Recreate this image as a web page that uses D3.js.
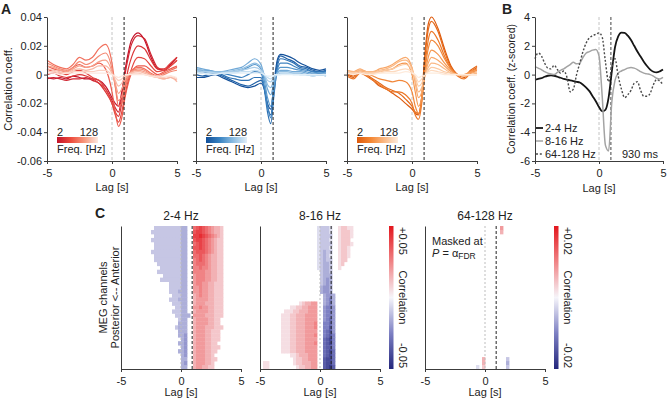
<!DOCTYPE html>
<html>
<head>
<meta charset="utf-8">
<script src="https://cdn.jsdelivr.net/npm/d3@7/dist/d3.min.js"></script>
<style>
  body { margin: 0; background: #fff; }
  svg text { font-family: "Liberation Sans", Arial, Helvetica, sans-serif; fill: #222; }
</style>
</head>
<body>
<svg id="fig" width="667" height="399"></svg>
<script>
// ---------------- data ----------------
const peakLag = 0.93;
const freqLabels = ["2", "128"];

// panel A: cross-correlation per frequency (2 Hz -> 128 Hz), lag in s
const lagsA = [-5, -4.5, -4, -3.5, -3, -2.5, -2, -1.5, -1, -0.5, 0, 0.25, 0.5, 0.75, 1, 1.25, 1.5, 2, 2.5, 3, 3.5, 4, 4.5, 5];

const redLines = [
  [-0.002, -0.003, -0.002, -0.003, -0.001, -0.002, -0.003, -0.003, -0.004, -0.008, -0.016, -0.020, -0.022, -0.012, 0.003, 0.015, 0.024, 0.029, 0.024, 0.012, 0.004, 0.003, 0.007, 0.012],
  [-0.003, -0.002, -0.003, -0.004, -0.003, -0.003, -0.002, -0.004, -0.006, -0.010, -0.018, -0.023, -0.026, -0.015, 0.000, 0.012, 0.021, 0.027, 0.025, 0.014, 0.005, 0.003, 0.006, 0.010],
  [0.000, 0.001, -0.001, -0.002, -0.001, 0.000, -0.001, -0.003, -0.006, -0.012, -0.020, -0.026, -0.029, -0.020, -0.008, 0.004, 0.012, 0.020, 0.018, 0.010, 0.004, 0.004, 0.008, 0.012],
  [0.004, 0.002, 0.001, 0.000, 0.002, 0.003, 0.001, -0.002, -0.004, -0.010, -0.020, -0.028, -0.033, -0.026, -0.014, -0.004, 0.004, 0.012, 0.011, 0.006, 0.002, 0.003, 0.006, 0.010],
  [0.006, 0.004, 0.003, 0.002, 0.005, 0.007, 0.005, 0.006, 0.008, 0.004, -0.012, -0.026, -0.036, -0.030, -0.016, -0.006, 0.001, 0.006, 0.006, 0.003, 0.000, 0.002, 0.004, 0.006],
  [0.010, 0.007, 0.005, 0.004, 0.007, 0.012, 0.010, 0.012, 0.018, 0.021, 0.008, -0.008, -0.022, -0.020, -0.010, -0.002, 0.003, 0.005, 0.004, 0.001, -0.001, 0.001, 0.003, 0.005],
  [0.008, 0.006, 0.004, 0.003, 0.005, 0.009, 0.007, 0.009, 0.013, 0.015, 0.004, -0.008, -0.018, -0.015, -0.007, -0.001, 0.002, 0.004, 0.003, 0.000, -0.002, 0.000, 0.002, 0.003],
  [0.006, 0.005, 0.003, 0.002, 0.004, 0.006, 0.005, 0.006, 0.009, 0.010, 0.002, -0.006, -0.013, -0.010, -0.004, 0.000, 0.002, 0.003, 0.002, 0.000, -0.002, -0.003, -0.002, -0.004],
  [0.004, 0.003, 0.002, 0.001, 0.003, 0.004, 0.003, 0.004, 0.006, 0.006, 0.001, -0.004, -0.008, -0.006, -0.002, 0.000, 0.001, 0.002, 0.001, -0.001, -0.002, -0.003, -0.002, -0.005],
  [0.002, 0.002, 0.001, 0.001, 0.002, 0.002, 0.002, 0.002, 0.003, 0.003, 0.000, -0.002, -0.004, -0.003, -0.001, 0.000, 0.001, 0.001, 0.000, -0.001, -0.002, -0.002, -0.001, -0.003],
  [0.001, 0.001, 0.000, 0.001, 0.001, 0.001, 0.001, 0.001, 0.001, 0.001, 0.000, -0.001, -0.002, -0.001, 0.000, 0.000, 0.000, 0.000, 0.000, -0.001, -0.001, -0.001, -0.001, -0.002]
];

const blueLines = [
  [-0.002, -0.002, -0.001, 0.000, -0.002, -0.004, -0.006, -0.008, -0.009, -0.008, -0.006, -0.010, -0.020, -0.024, -0.006, 0.010, 0.014, 0.013, 0.011, 0.008, 0.006, 0.004, 0.003, 0.004],
  [0.000, -0.001, 0.000, 0.001, -0.001, -0.003, -0.005, -0.007, -0.008, -0.006, -0.004, -0.009, -0.022, -0.028, -0.010, 0.008, 0.013, 0.011, 0.009, 0.006, 0.005, 0.003, 0.002, 0.003],
  [0.002, 0.001, 0.002, 0.002, 0.000, -0.002, -0.003, -0.004, -0.004, -0.002, -0.002, -0.010, -0.026, -0.034, -0.014, 0.005, 0.011, 0.010, 0.008, 0.005, 0.004, 0.002, 0.002, 0.002],
  [0.003, 0.002, 0.002, 0.002, 0.001, 0.000, -0.001, -0.002, 0.000, 0.002, 0.001, -0.008, -0.022, -0.030, -0.012, 0.003, 0.008, 0.008, 0.006, 0.004, 0.003, 0.002, 0.001, 0.002],
  [0.004, 0.003, 0.003, 0.002, 0.002, 0.002, 0.002, 0.003, 0.005, 0.007, 0.004, -0.004, -0.016, -0.022, -0.008, 0.002, 0.005, 0.005, 0.004, 0.003, 0.002, 0.001, 0.001, 0.001],
  [0.005, 0.004, 0.003, 0.002, 0.002, 0.003, 0.004, 0.005, 0.008, 0.011, 0.007, -0.001, -0.010, -0.014, -0.005, 0.001, 0.003, 0.003, 0.002, 0.002, 0.001, 0.000, 0.000, 0.000],
  [0.004, 0.003, 0.002, 0.002, 0.002, 0.002, 0.003, 0.004, 0.006, 0.008, 0.005, 0.000, -0.007, -0.009, -0.003, 0.001, 0.002, 0.002, 0.001, 0.001, 0.000, 0.000, 0.000, -0.001],
  [0.003, 0.002, 0.002, 0.001, 0.001, 0.002, 0.002, 0.003, 0.004, 0.005, 0.003, 0.000, -0.004, -0.005, -0.002, 0.000, 0.001, 0.001, 0.001, 0.000, 0.000, -0.001, 0.000, -0.001],
  [0.002, 0.001, 0.001, 0.001, 0.001, 0.001, 0.001, 0.002, 0.002, 0.003, 0.002, 0.000, -0.002, -0.003, -0.001, 0.000, 0.000, 0.001, 0.000, 0.000, 0.000, -0.001, 0.000, -0.001],
  [0.001, 0.001, 0.000, 0.000, 0.001, 0.001, 0.001, 0.001, 0.001, 0.001, 0.001, 0.000, -0.001, -0.001, 0.000, 0.000, 0.000, 0.000, 0.000, 0.000, 0.000, 0.000, 0.000, 0.000]
];

const orangeLines = [
  [0.000, -0.002, 0.002, -0.001, -0.004, -0.008, -0.010, -0.013, -0.016, -0.020, -0.024, -0.027, -0.028, -0.015, 0.015, 0.035, 0.040, 0.032, 0.018, 0.006, 0.000, -0.002, 0.002, 0.005],
  [0.001, -0.001, 0.003, 0.000, -0.003, -0.006, -0.009, -0.011, -0.013, -0.017, -0.022, -0.026, -0.027, -0.016, 0.012, 0.031, 0.037, 0.030, 0.016, 0.005, 0.000, -0.001, 0.003, 0.006],
  [-0.001, -0.003, 0.001, -0.001, -0.004, -0.007, -0.010, -0.012, -0.012, -0.014, -0.020, -0.028, -0.031, -0.020, 0.006, 0.024, 0.030, 0.024, 0.013, 0.004, -0.001, -0.003, 0.001, 0.003],
  [0.002, 0.000, 0.003, 0.001, -0.001, -0.003, -0.004, -0.005, -0.004, -0.005, -0.012, -0.022, -0.027, -0.018, 0.003, 0.018, 0.024, 0.020, 0.011, 0.004, 0.000, -0.001, 0.002, 0.004],
  [0.002, 0.001, 0.003, 0.002, 0.001, 0.002, 0.003, 0.004, 0.007, 0.008, 0.000, -0.012, -0.022, -0.016, 0.000, 0.012, 0.017, 0.014, 0.008, 0.003, 0.000, 0.000, 0.002, 0.003],
  [0.003, 0.002, 0.004, 0.002, 0.002, 0.004, 0.005, 0.007, 0.010, 0.012, 0.005, -0.006, -0.016, -0.012, 0.000, 0.008, 0.012, 0.010, 0.006, 0.002, 0.000, 0.000, 0.001, 0.002],
  [0.003, 0.002, 0.003, 0.002, 0.002, 0.003, 0.004, 0.006, 0.009, 0.010, 0.004, -0.004, -0.012, -0.009, 0.000, 0.005, 0.008, 0.007, 0.004, 0.001, 0.000, -0.001, 0.000, 0.001],
  [0.002, 0.001, 0.002, 0.001, 0.001, 0.002, 0.003, 0.004, 0.006, 0.007, 0.003, -0.002, -0.008, -0.006, 0.000, 0.003, 0.005, 0.004, 0.002, 0.001, 0.000, -0.001, 0.000, 0.000],
  [0.001, 0.001, 0.001, 0.001, 0.001, 0.001, 0.002, 0.002, 0.003, 0.004, 0.002, -0.001, -0.005, -0.003, 0.000, 0.002, 0.003, 0.002, 0.001, 0.000, 0.000, 0.000, 0.000, 0.000],
  [0.001, 0.000, 0.001, 0.000, 0.000, 0.001, 0.001, 0.001, 0.001, 0.002, 0.001, 0.000, -0.002, -0.001, 0.000, 0.001, 0.001, 0.001, 0.000, 0.000, 0.000, 0.000, 0.000, 0.000]
];

// panel B: z-scored correlation for three bands
const lagsB = [-5, -4.75, -4.5, -4.25, -4, -3.75, -3.5, -3.25, -3, -2.75, -2.5, -2.25, -2, -1.75, -1.5, -1.25, -1, -0.75, -0.5, -0.25, 0,
  0.25, 0.5, 0.75, 1, 1.25, 1.5, 1.75, 2, 2.25, 2.5, 2.75, 3, 3.25, 3.5, 3.75, 4, 4.25, 4.5, 4.75, 5];
const bandNames = ["2-4 Hz", "8-16 Hz", "64-128 Hz"];
const z2to4 = [-0.35, -0.3, -0.25, -0.15, -0.08, -0.05, -0.08, -0.15, -0.22, -0.3, -0.35, -0.4, -0.45, -0.5, -0.55, -0.7, -0.9, -1.15, -1.5, -1.85, -2.25,
  -2.55, -2.45, -1.6, 0.2, 1.9, 2.65, 2.92, 2.9, 2.7, 2.4, 2.0, 1.6, 1.25, 0.9, 0.6, 0.35, 0.2, 0.15, 0.22, 0.35];
const z8to16 = [0.55, 0.45, 0.35, 0.2, 0.1, 0.05, 0.0, 0.15, 0.3, 0.4, 0.55, 0.7, 0.85, 0.75, 0.8, 1.2, 1.5, 1.6, 1.7, 1.75, 1.3,
  -1.5, -4.9, -5.3, -1.9, -0.4, 0.1, 0.25, 0.35, 0.45, 0.5, 0.45, 0.35, 0.2, 0.1, 0.05, 0.0, -0.1, -0.25, -0.3, -0.2];
const z64to128 = [1.1, 1.5, 1.3, 0.8, 0.45, 0.4, 0.65, 0.35, 0.1, 0.25, -0.2, -1.2, -1.0, 0.0, 0.8, 1.6, 2.2, 2.55, 2.7, 2.8, 2.9,
  2.6, 0.9, -0.5, 0.5, 1.1, -0.1, -1.0, -1.6, -1.4, -1.1, -0.6, -0.5, -1.1, -1.5, -1.5, -1.3, -0.7, -0.35, -0.45, -0.7];

// panel C: MEG channel x lag maps, 0.25 s bins from -5 s.
// '.' masked, '1'..'9' = +0.1..+0.9 of colour range, 'a'..'i' = -0.1..-0.9
const binStart = -5, binWidth = 0.25;
const map2to4 = [
  "...........bbbbbbbbbcc..6787654332......",
  "..........bbbbbbbbbbcc..7887654332......",
  "...........bbbbbbbbbcc..8898765432......",
  "..........bbbbbbbbbbcc..7887654322......",
  "...........bbbbbbbbbcc..6787654322......",
  "...........bbbbbbbbbcc..7787654322......",
  "..........bbbbbbbbbbcc..6777654322......",
  "...........bbbbbbbbbcc..6676543322......",
  "...........bbbbbbbbbcc..5676543322......",
  "............bbbbbbbbcc..5666543322......",
  ".............bbbbbbbcc..5565543322......",
  "............bbbbbbbbcc..5555443322......",
  "..............bbbbbbcc..4555443322......",
  ".............bbbbbbbcc..4555443322......",
  "................bbbbcc..4554433222......",
  "................bbbbcc..4454433222......",
  "................bbbccc..4454433222......",
  ".................bbbcc..3454433222......",
  "................bbbccc..3444433222......",
  ".................bbbcc..3444333222......",
  "..................bbcc..4454433222......",
  ".................bbbcc..3444433222......",
  "..................bbccc.4444333222......",
  "...................bcc..344443322.......",
  "...................ccc..344443322.......",
  "..................bccc..3444333222......",
  "...................ccc..344433222.......",
  "...................ccd..344433222.......",
  "....................cd..344433222.......",
  "...................ccd..34443322........",
  "....................cd..344433222.......",
  "...................ccd..34443322........",
  "....................cd..3444332.........",
  "....................cc..34443322........",
  "....................cd..3444332.........",
  "....................cc..3443322........."
];
const map8to16 = [
  "...................abbba..12211.........",
  "...................abbba..12221.........",
  "...................abbbb..12221.........",
  "...................abbba..1222..........",
  "...................abbbb..12221.........",
  "...................abbba..1221..........",
  "...................abcbb..1221..........",
  "...................abcba..1221..........",
  "...................abcbb..122...........",
  "...................abccb..12............",
  "...................abccb..1.............",
  "....................bccb................",
  "....................bccc................",
  "....................bcdc................",
  "....................bcdc................",
  "....................cddc................",
  "....................cddc................",
  ".....................cddc...............",
  ".....................cdec...............",
  ".............123344..cdec...............",
  "..........112233444..deed...............",
  "........11122333444..deed...............",
  ".......111223334444..deed...............",
  ".......111223334444..defd...............",
  ".......111223334445..eefd...............",
  ".......111223334445..eegd...............",
  ".......111223334444..efgd...............",
  ".......111223334445..efge...............",
  ".......111223334444..fghe...............",
  ".......111223334445..fghe...............",
  ".......111223334444..fgge...............",
  ".......111223334444..fghf...............",
  "..........112333444..fghf...............",
  "...........12233444..ghhf...............",
  ".11........12233344..ghhf...............",
  ".11.........1223344..ghig..............."
];
const map64to128 = [
  ".........................4",
  ".........................3",
  "", "", "", "", "", "", "", "", "", "", "", "", "", "", "", "", "", "", "",
  "", "", "", "", "", "", "", "", "", "", "",
  ".........................",
  "...................3.......b",
  "...................3.......c",
  ".................a.2.......b"
];
const colorMax = [0.05, 0.05, 0.02];

// ---------------- drawing ----------------
const svg = d3.select("#fig");
const defs = svg.append("defs");
const axisInk = "#3c3c3c";

function styleAxis(g, size) {
  g.attr("font-family", null).attr("font-size", size || 11);
  g.select(".domain").attr("stroke", axisInk);
  g.selectAll(".tick line").attr("stroke", axisInk);
  g.selectAll(".tick text").attr("fill", "#222");
}

function vDash(g, x, y0, y1, color, dash) {
  g.append("line").attr("x1", x).attr("x2", x).attr("y1", y0).attr("y2", y1)
    .attr("stroke", color).attr("stroke-width", 1).attr("stroke-dasharray", dash);
}

function gradient(id, colors, vertical) {
  const gr = defs.append("linearGradient").attr("id", id)
    .attr("x1", 0).attr("y1", 0).attr("x2", vertical ? 0 : 1).attr("y2", vertical ? 1 : 0);
  colors.forEach((c, i) => gr.append("stop").attr("offset", i / (colors.length - 1)).attr("stop-color", c));
}

// ---- Panel A ----
const aTop = 17, aBottom = 161, aWidth = 130;
const yA = d3.scaleLinear().domain([-0.06, 0.04]).range([aBottom, aTop]);
const panelsA = [
  { left: 47, lines: redLines, ramp: ["#c3132b", "#ec4a3c", "#f7977c", "#fde8df"], labels: true },
  { left: 196, lines: blueLines, ramp: ["#13509a", "#3883c2", "#8dbde2", "#e0eef8"] },
  { left: 347, lines: orangeLines, ramp: ["#de5a0c", "#f48632", "#fab985", "#feebdc"] }
];

panelsA.forEach((p, k) => {
  const x = d3.scaleLinear().domain([-5, 5]).range([p.left, p.left + aWidth]);
  const g = svg.append("g");
  const col = d3.interpolateRgbBasis(p.ramp);

  vDash(g, x(0), aTop, aBottom, "#c4c4c4", "3,2");

  const line = d3.line()
    .x((d, i) => x(lagsA[i]))
    .y(d => yA(d))
    .curve(d3.curveMonotoneX);

  g.selectAll("path.trace")
    .data(p.lines)
    .join("path")
    .attr("class", "trace")
    .attr("d", line)
    .attr("fill", "none")
    .attr("stroke", (d, i) => col(i / (p.lines.length - 1)))
    .attr("stroke-width", 1.2);

  vDash(g, x(peakLag), aTop, aBottom, "#222", "3,2");

  const yAxis = g.append("g")
    .attr("transform", `translate(${p.left},0)`)
    .call(d3.axisLeft(yA).tickValues([-0.06, -0.04, -0.02, 0, 0.02, 0.04])
      .tickSize(3).tickSizeOuter(0).tickPadding(2)
      .tickFormat(d => p.labels ? (d === 0 ? "0" : d.toFixed(2)) : ""));
  styleAxis(yAxis);

  const xAxis = g.append("g")
    .attr("transform", `translate(0,${aBottom})`)
    .call(d3.axisBottom(x).tickValues([-5, 0, 5]).tickSize(3).tickSizeOuter(0).tickPadding(5)
      .tickFormat(d => String(d)));
  styleAxis(xAxis);

  g.append("text").attr("x", x(0)).attr("y", 191).attr("text-anchor", "middle")
    .attr("font-size", 11).text("Lag [s]");

  // frequency colour bar
  const gid = "freqbar" + k;
  gradient(gid, p.ramp, false);
  const bx = p.left + 10;
  g.append("rect").attr("x", bx).attr("y", 137).attr("width", 41).attr("height", 6)
    .attr("fill", `url(#${gid})`);
  g.append("text").attr("x", bx).attr("y", 135.5).attr("font-size", 11).text(freqLabels[0]);
  g.append("text").attr("x", bx + 41).attr("y", 135.5).attr("font-size", 11)
    .attr("text-anchor", "end").text(freqLabels[1]);
  g.append("text").attr("x", bx).attr("y", 153).attr("font-size", 11).text("Freq. [Hz]");
});

svg.append("text").attr("transform", `translate(12,${(aTop + aBottom) / 2}) rotate(-90)`)
  .attr("text-anchor", "middle").attr("font-size", 11).text("Correlation coeff.");

// ---- Panel B ----
const bLeft = 535, bRight = 663;
const xB = d3.scaleLinear().domain([-5, 5]).range([bLeft, bRight]);
const yB = d3.scaleLinear().domain([-6, 4]).range([aBottom, aTop]);
const gB = svg.append("g");
vDash(gB, xB(0), aTop, aBottom, "#c4c4c4", "3,2");
vDash(gB, xB(peakLag), aTop, aBottom, "#444", "3,2");

const bSeries = [z2to4, z8to16, z64to128];
const bStyles = [
  { stroke: "#161616", width: 1.8, dash: null },
  { stroke: "#a3a3a3", width: 1.5, dash: null },
  { stroke: "#4a4a4a", width: 1.4, dash: "2,1.8" }
];
const lineB = d3.line().x((d, i) => xB(lagsB[i])).y(d => yB(d)).curve(d3.curveMonotoneX);
gB.selectAll("path.band")
  .data(bSeries)
  .join("path")
  .attr("class", "band")
  .attr("d", lineB)
  .attr("fill", "none")
  .attr("stroke", (d, i) => bStyles[i].stroke)
  .attr("stroke-width", (d, i) => bStyles[i].width)
  .attr("stroke-dasharray", (d, i) => bStyles[i].dash);

const yAxisB = gB.append("g").attr("transform", `translate(${bLeft},0)`)
  .call(d3.axisLeft(yB).tickValues([-6, -4, -2, 0, 2, 4]).tickSize(3).tickSizeOuter(0).tickPadding(2)
    .tickFormat(d => String(d)));
styleAxis(yAxisB);
const xAxisB = gB.append("g").attr("transform", `translate(0,${aBottom})`)
  .call(d3.axisBottom(xB).tickValues([-5, 0, 5]).tickSize(3).tickSizeOuter(0).tickPadding(5)
    .tickFormat(d => String(d)));
styleAxis(xAxisB);
gB.append("text").attr("x", xB(0)).attr("y", 192).attr("text-anchor", "middle")
  .attr("font-size", 11).text("Lag [s]");
gB.append("text").attr("transform", `translate(515,${(aTop + aBottom) / 2}) rotate(-90)`)
  .attr("text-anchor", "middle").attr("font-size", 10.5).text("Correlation coeff. (z-scored)");

const legendY = [128, 141, 154];
bandNames.forEach((name, i) => {
  gB.append("line").attr("x1", bLeft + 1).attr("x2", bLeft + 8)
    .attr("y1", legendY[i]).attr("y2", legendY[i])
    .attr("stroke", bStyles[i].stroke).attr("stroke-width", bStyles[i].width)
    .attr("stroke-dasharray", bStyles[i].dash);
  gB.append("text").attr("x", bLeft + 10).attr("y", legendY[i] + 4)
    .attr("font-size", 11).text(name);
});
gB.append("text").attr("x", xB(peakLag) + 11).attr("y", 158).attr("font-size", 11)
  .text(Math.round(peakLag * 1000) + " ms");

// ---- Panel C ----
const cTop = 226, cBottom = 369;
const heatColors = ["#23267c", "#7d80c3", "#f6f5fa", "#f08385", "#e3161d"];
const heat = d3.scaleLinear().domain([-1, -0.5, 0, 0.5, 1]).range(heatColors);
const levelOf = {};
"123456789".split("").forEach((c, i) => { levelOf[c] = (i + 1) / 10; });
"abcdefghi".split("").forEach((c, i) => { levelOf[c] = -(i + 1) / 10; });
gradient("heatbar", heatColors.slice().reverse(), true);

const panelsC = [
  { left: 121, title: bandNames[0], rows: map2to4, bar: false },
  { left: 260, title: bandNames[1], rows: map8to16, bar: true, max: colorMax[1] },
  { left: 425, title: bandNames[2], rows: map64to128, bar: true, max: colorMax[2], note: true }
];
const cWidth = 120;

panelsC.forEach(p => {
  const x = d3.scaleLinear().domain([-5, 5]).range([p.left, p.left + cWidth]);
  const y = d3.scaleBand().domain(d3.range(p.rows.length)).range([cTop, cBottom]);
  const g = svg.append("g");

  const cells = [];
  p.rows.forEach((row, r) => {
    row.padEnd(40, ".").slice(0, 40).split("").forEach((ch, i) => {
      if (levelOf[ch] !== undefined) cells.push({ r, lag: binStart + i * binWidth, v: levelOf[ch] });
    });
  });
  const cw = x(binWidth) - x(0);
  g.selectAll("rect.cell")
    .data(cells)
    .join("rect")
    .attr("class", "cell")
    .attr("x", d => x(d.lag))
    .attr("y", d => y(d.r))
    .attr("width", cw + 0.4)
    .attr("height", y.bandwidth() + 0.4)
    .attr("fill", d => heat(d.v));

  vDash(g, x(0), cTop, cBottom, "#bdbdbd", "2,2");
  vDash(g, x(peakLag), cTop, cBottom, "#222", "3,2");

  const yAx = g.append("g").attr("transform", `translate(${p.left},0)`)
    .call(d3.axisLeft(y).tickValues([]).tickSizeOuter(0));
  styleAxis(yAx);
  const xAx = g.append("g").attr("transform", `translate(0,${cBottom})`)
    .call(d3.axisBottom(x).tickValues([-5, 0, 5]).tickSize(3).tickSizeOuter(0).tickPadding(5)
      .tickFormat(d => String(d)));
  styleAxis(xAx);

  g.append("text").attr("x", x(0)).attr("y", 220).attr("text-anchor", "middle")
    .attr("font-size", 12).text(p.title);
  g.append("text").attr("x", x(0)).attr("y", 396).attr("text-anchor", "middle")
    .attr("font-size", 11).text("Lag [s]");

  if (p.bar) {
    const bx = p.left + cWidth + 9;
    g.append("rect").attr("x", bx).attr("y", cTop).attr("width", 4.5).attr("height", cBottom - cTop)
      .attr("fill", "url(#heatbar)");
    const tx = bx + 9.5;
    const lab = (t, yy, anchor) => g.append("text")
      .attr("transform", `translate(${tx},${yy}) rotate(90)`)
      .attr("text-anchor", anchor).attr("font-size", 11).text(t);
    lab("+" + p.max.toFixed(2), cTop + 1, "start");
    lab("Correlation", (cTop + cBottom) / 2, "middle");
    lab("-" + p.max.toFixed(2), cBottom - 1, "end");
  }

  if (p.note) {
    g.append("text").attr("x", p.left + 7).attr("y", 245).attr("font-size", 11).text("Masked at");
    const t = g.append("text").attr("x", p.left + 7).attr("y", 257).attr("font-size", 11);
    t.append("tspan").attr("font-style", "italic").text("P");
    t.append("tspan").text(" = \u03b1");
    t.append("tspan").attr("dy", 2).attr("font-size", 8.5).text("FDR");
  }
});

svg.append("text").attr("transform", `translate(107,${(cTop + cBottom) / 2}) rotate(-90)`)
  .attr("text-anchor", "middle").attr("font-size", 11).text("MEG channels");
svg.append("text").attr("transform", `translate(119,${(cTop + cBottom) / 2}) rotate(-90)`)
  .attr("text-anchor", "middle").attr("font-size", 11).text("Posterior <-- Anterior");

// panel letters
[["A", 1, 14], ["B", 502, 14], ["C", 95, 218]].forEach(([t, x, y]) => {
  svg.append("text").attr("x", x).attr("y", y).attr("font-size", 14)
    .attr("font-weight", "bold").attr("fill", "#111").text(t);
});
</script>
</body>
</html>
